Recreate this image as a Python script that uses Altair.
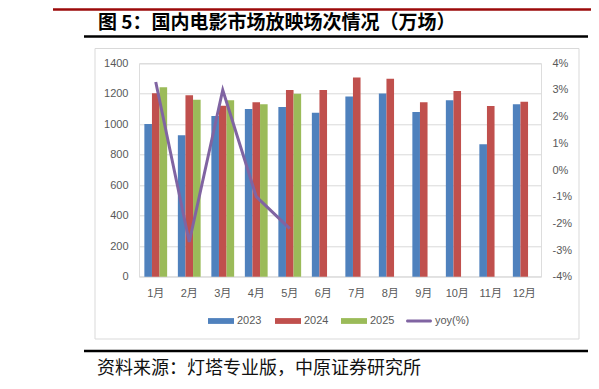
import altair as alt
import pandas as pd

months = ["1月", "2月", "3月", "4月", "5月", "6月", "7月", "8月", "9月", "10月", "11月", "12月"]
years = ["2023", "2024", "2025"]
v2023 = [1002, 928, 1054, 1100, 1113, 1076, 1183, 1202, 1081, 1157, 869, 1131]
v2024 = [1204, 1190, 1122, 1144, 1225, 1225, 1307, 1298, 1144, 1218, 1120, 1148]
v2025 = [1243, 1161, 1157, 1131, 1200]
yoy = [3.3, -2.7, 3.0, -1.0, -2.2]

title_text = "图 5：国内电影市场放映场次情况（万场）"
source_text = "资料来源：灯塔专业版，中原证券研究所"
legend_labels = ["2023", "2024", "2025", "yoy(%)"]

colors = ["#4F81BD", "#C0504D", "#9BBB59"]
purple = "#8064A2"

rows = []
for yr, vals in zip(years, [v2023, v2024, v2025]):
    for m, v in zip(months, vals):
        rows.append({"month": m, "year": yr, "value": v})
bars_df = pd.DataFrame(rows)
line_df = pd.DataFrame({"month": months[:len(yoy)], "yoy": yoy})

W, H = 402, 213.4
PL, PT = 131, 55.3
FONT = "Liberation Sans, Noto Sans CJK SC"

xscale = alt.Scale(domain=months, paddingInner=0.32, paddingOuter=0.16)

bars = alt.Chart(bars_df).mark_bar().encode(
    x=alt.X("month:N", sort=months, scale=xscale,
            axis=alt.Axis(title=None, labelAngle=0, ticks=False, domain=False,
                          labelPadding=11, labelFont=FONT, labelFontSize=11,
                          labelColor="#595959", grid=False)),
    xOffset=alt.XOffset("year:N", scale=alt.Scale(domain=years, paddingInner=0, paddingOuter=0)),
    y=alt.Y("value:Q", scale=alt.Scale(domain=[0, 1400], nice=False),
            axis=alt.Axis(title=None, values=list(range(0, 1401, 200)), ticks=False, format="d",
                          domain=False, labelPadding=11, labelFont=FONT, labelFontSize=11,
                          labelColor="#595959", grid=True, gridColor="#D9D9D9", gridWidth=1)),
    color=alt.Color("year:N", scale=alt.Scale(domain=years, range=colors), legend=None),
)

line = alt.Chart(line_df).mark_line(color=purple, strokeWidth=3).encode(
    x=alt.X("month:N", sort=months, scale=xscale),
    y=alt.Y("yoy:Q", scale=alt.Scale(domain=[-4, 4], nice=False),
            axis=alt.Axis(title=None, orient="right", values=list(range(-4, 5)), ticks=False,
                          domain=False, labelPadding=11, labelFont=FONT, labelFontSize=11,
                          labelColor="#595959", grid=False,
                          labelExpr="datum.value + '%'")),
)

dummy = alt.Data(values=[{"a": 1}])


def px(v):
    return v - 139


def py(v):
    return v - 63.3


deco = []
# frame
deco.append(alt.Chart(dummy).mark_rect(fillOpacity=0, stroke="#D9D9D9", strokeWidth=1).encode(
    x=alt.value(px(95)), x2=alt.value(px(579)), y=alt.value(py(48.5)), y2=alt.value(py(339))))
# top red line
deco.append(alt.Chart(dummy).mark_rule(color="#9B0A0A", strokeWidth=2.5).encode(
    x=alt.value(px(53)), x2=alt.value(px(599)), y=alt.value(py(9.5))))
# title
deco.append(alt.Chart(dummy).mark_text(text=title_text, align="left", baseline="middle",
                                       font="Noto Sans CJK SC", fontSize=19, fontWeight="bold",
                                       color="#000000").encode(
    x=alt.value(px(98)), y=alt.value(py(22.5))))
# black rule under title
deco.append(alt.Chart(dummy).mark_rule(color="#000000", strokeWidth=2.5).encode(
    x=alt.value(px(84)), x2=alt.value(px(588)), y=alt.value(py(36.5))))
# bottom black rule
deco.append(alt.Chart(dummy).mark_rule(color="#000000", strokeWidth=2.5).encode(
    x=alt.value(px(84)), x2=alt.value(px(588)), y=alt.value(py(351))))
# source
deco.append(alt.Chart(dummy).mark_text(text=source_text, align="left", baseline="middle",
                                       font="Noto Sans CJK SC", fontSize=18,
                                       color="#111111").encode(
    x=alt.value(px(97)), y=alt.value(py(369))))

# legend
sw_x = [208, 275, 341, 406]
leg_colors = colors + [purple]
legend_layers = []
for i, (lab, col) in enumerate(zip(legend_labels, leg_colors)):
    hh = 2.9 if i < 3 else 1.5
    legend_layers.append(alt.Chart(dummy).mark_rect(color=col, cornerRadius=0 if i < 3 else 1.5).encode(
        x=alt.value(px(sw_x[i])), x2=alt.value(px(sw_x[i] + 26)),
        y=alt.value(py(321 - hh)), y2=alt.value(py(321 + hh))))
    legend_layers.append(alt.Chart(dummy).mark_text(text=lab, align="left", baseline="middle",
                                                    font=FONT, fontSize=11, color="#595959").encode(
        x=alt.value(px(sw_x[i] + 29)), y=alt.value(py(321))))

chart = alt.layer(deco[0], bars, line, *deco[1:], *legend_layers).resolve_scale(
    y="independent"
).properties(
    width=W, height=H,
    autosize=alt.AutoSizeParams(type="none"),
    padding={"left": PL, "top": PT, "right": 583 - PL - W, "bottom": 373 - PT - H},
).configure_view(stroke=None).configure(background="white")

chart.save("out.html", embed_options={"renderer": "svg", "actions": False})
